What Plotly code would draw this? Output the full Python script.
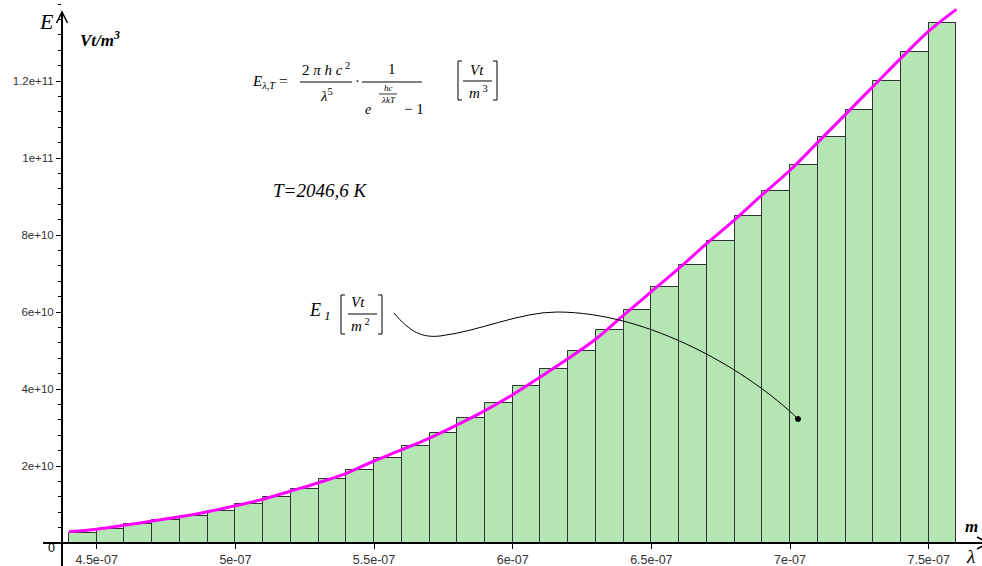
import plotly.graph_objects as go

# wavelength bins (left edge), m
lam = [4.4e-7, 4.5e-7, 4.6e-7, 4.7e-7, 4.8e-7, 4.9e-7, 5.0e-7, 5.1e-7,
       5.2e-7, 5.3e-7, 5.4e-7, 5.5e-7, 5.6e-7, 5.7e-7, 5.8e-7, 5.9e-7,
       6.0e-7, 6.1e-7, 6.2e-7, 6.3e-7, 6.4e-7, 6.5e-7, 6.6e-7, 6.7e-7,
       6.8e-7, 6.9e-7, 7.0e-7, 7.1e-7, 7.2e-7, 7.3e-7, 7.4e-7, 7.5e-7]
# bar heights, Vt/m^3
E_bar = [2.60e9, 3.60e9, 4.86e9, 6.05e9, 7.09e9, 8.44e9, 1.013e10, 1.202e10,
         1.402e10, 1.654e10, 1.909e10, 2.215e10, 2.527e10, 2.849e10, 3.254e10, 3.636e10,
         4.077e10, 4.527e10, 4.994e10, 5.532e10, 6.051e10, 6.641e10, 7.228e10, 7.843e10,
         8.485e10, 9.149e10, 9.825e10, 1.0552e11, 1.1238e11, 1.1998e11, 1.2744e11, 1.3497e11]

# magenta curve, read at the bin edges
curve_lam = lam + [7.6e-7]
curve_E = [2.93e9, 3.60e9, 4.60e9, 5.71e9, 6.83e9, 8.13e9, 9.69e9, 1.135e10,
           1.350e10, 1.566e10, 1.81e10, 2.130e10, 2.423e10, 2.727e10, 3.070e10, 3.439e10,
           3.852e10, 4.314e10, 4.792e10, 5.299e10, 5.92e10, 6.529e10, 7.139e10, 7.781e10,
           8.394e10, 9.048e10, 9.682e10, 1.0407e11, 1.1134e11, 1.1863e11, 1.2593e11, 1.3295e11,
           1.3861e11]

x_ticks = [4.5e-7, 5e-7, 5.5e-7, 6e-7, 6.5e-7, 7e-7, 7.5e-7]
x_labels = ["4.5e-07", "5e-07", "5.5e-07", "6e-07", "6.5e-07", "7e-07", "7.5e-07"]
y_ticks = [2e10, 4e10, 6e10, 8e10, 1e11, 1.2e11]
y_labels = ["2e+10", "4e+10", "6e+10", "8e+10", "1e+11", "1.2e+11"]

W, H = 982, 566
L, B = 62, 23
PW, PH = W - L, H - B
SERIF = "Liberation Serif"


def px(x):
    return (x - L) / PW


def py(y):
    return (H - B - y) / PH


def path(cmds):
    # cmds: list of (letter, [(x, y), ...]) in page pixels
    out = []
    for c, pts in cmds:
        if c == "L":
            out.append(" ".join("L %.5f,%.5f" % (px(x), py(y)) for x, y in pts))
        else:
            out.append(c + " " + " ".join("%.5f,%.5f" % (px(x), py(y)) for x, y in pts))
    return " ".join(out)


def line_shape(cmds, width=1, color="black"):
    return dict(type="path", xref="paper", yref="paper", path=path(cmds),
                line=dict(color=color, width=width), layer="above")


def txt(x, y, s, size=14, family=SERIF, **kw):
    return dict(x=px(x), y=py(y), xref="paper", yref="paper", text=s, showarrow=False,
                xanchor=kw.pop("xanchor", "center"), yanchor="middle",
                font=dict(family=family, size=size, color="black"), **kw)


fig = go.Figure()
fig.add_trace(go.Bar(x=lam, y=E_bar, width=1e-8, offset=0,
                     marker=dict(color="#b3e6b3", line=dict(color="#333333", width=1))))
fig.add_trace(go.Scatter(x=curve_lam, y=curve_E, mode="lines", cliponaxis=False,
                         line=dict(color="#ff00ff", width=3, shape="spline")))

shapes = [
    # axes with arrows
    line_shape([("M", [(62, 566)]), ("L", [(62, 13)])], width=2),
    line_shape([("M", [(56.5, 23)]), ("L", [(62, 12), (67.5, 23)])], width=1.5),
    line_shape([("M", [(43, 543)]), ("L", [(990, 543)])], width=2),
    line_shape([("M", [(977, 537)]), ("L", [(988, 543), (977, 549)])], width=1.5),
    # formula fraction bars
    line_shape([("M", [(300, 82)]), ("L", [(352, 82)])]),
    line_shape([("M", [(362, 82)]), ("L", [(422, 82)])]),
    line_shape([("M", [(379, 94)]), ("L", [(397, 94)])], width=0.8),
    line_shape([("M", [(463, 81)]), ("L", [(492, 81)])]),
    line_shape([("M", [(462, 61)]), ("L", [(458, 61), (458, 100), (462, 100)])]),
    line_shape([("M", [(493, 61)]), ("L", [(497, 61), (497, 100), (493, 100)])]),
    # E1 label
    line_shape([("M", [(348, 314)]), ("L", [(377, 314)])]),
    line_shape([("M", [(345, 295)]), ("L", [(341, 295), (341, 334), (345, 334)])]),
    line_shape([("M", [(378, 295)]), ("L", [(382, 295), (382, 334), (378, 334)])]),
    # connector curve
    line_shape([("M", [(394, 313)]),
                ("C", [(410, 332), (422, 338), (440, 336)]),
                ("C", [(480, 331), (520, 312), (557, 312)]),
                ("C", [(650, 312), (750, 372), (798, 419)])], width=1),
    dict(type="circle", xref="paper", yref="paper", layer="above",
         x0=px(795.5), x1=px(800.5), y0=py(421.5), y1=py(416.5),
         fillcolor="black", line=dict(color="black", width=1)),
]

annotations = [
    txt(46, 21, "<i>E</i>", size=22),
    txt(100, 39, "<b><i>Vt/m</i></b><sup><b><i>3</i></b></sup>", size=17),
    txt(971, 526, "<b><i>m</i></b>", size=17),
    txt(970, 556, "<i>λ</i>", size=19),
    txt(51, 548, "0", size=12.5, family="Liberation Sans"),
    # formula
    txt(269, 82, "<i>E</i><sub><i>λ,T</i></sub> =", size=15),
    txt(326, 69, "2 <i>π h c</i><sup> 2</sup>", size=15),
    txt(326, 95, "<i>λ</i><sup>5</sup>", size=15),
    txt(357, 82, "·", size=14),
    txt(392, 69, "1", size=15),
    txt(368, 109, "<i>e</i>", size=14),
    txt(388, 88, "<i>hc</i>", size=9),
    txt(388, 100, "<i>λkT</i>", size=9),
    txt(414, 109, "− 1", size=15),
    txt(477, 70, "<i>Vt</i>", size=15),
    txt(478, 92, "<i>m</i><sup> 3</sup>", size=15),
    txt(320, 190, "<i>T=2046,6 K</i>", size=19),
    # E1 label
    txt(319, 311, "<i>E</i><sub><i> 1</i></sub>", size=18),
    txt(358, 302, "<i>Vt</i>", size=15),
    txt(360, 325, "<i>m</i><sup> 2</sup>", size=15),
]

fig.update_layout(
    width=W, height=H,
    margin=dict(l=L, r=0, t=0, b=B),
    plot_bgcolor="white", paper_bgcolor="white",
    showlegend=False, bargap=0,
    shapes=shapes, annotations=annotations,
    xaxis=dict(range=[4.3749e-7, 7.6922e-7], showgrid=False, zeroline=False, showline=False,
               ticks="outside", ticklen=5, tickcolor="black", tickwidth=1,
               tickvals=x_ticks, ticktext=x_labels,
               tickfont=dict(family="Liberation Sans", size=12.5, color="#333333")),
    yaxis=dict(range=[0, 1.41039e11], showgrid=False, zeroline=False, showline=False,
               ticks="outside", ticklen=5, tickcolor="black", tickwidth=1,
               tickvals=y_ticks, ticktext=y_labels,
               minor=dict(tickmode="linear", tick0=0, dtick=4e9, ticks="outside",
                          ticklen=3, tickcolor="black", showgrid=False),
               tickfont=dict(family="Liberation Sans", size=11.5, color="#333333")),
)

# the page body has a default 8px margin; drop it so the figure sits at the window corner
fig.write_html("out.html", config={"displayModeBar": False},
               post_script="document.body.style.margin='0';")
